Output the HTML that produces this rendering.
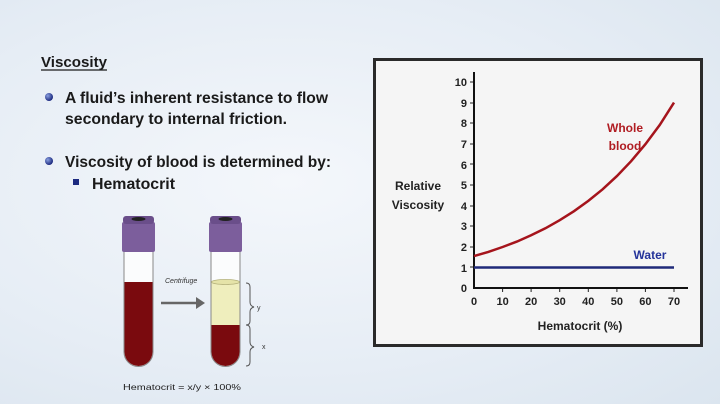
<!DOCTYPE html>
<html><head><meta charset="utf-8"><style>
html,body{margin:0;padding:0;}
body{width:720px;height:404px;overflow:hidden;background:radial-gradient(ellipse at 40% 45%,#f4f7fb 0%,#e6edf5 60%,#dbe5ef 100%);}
svg{display:block;font-family:"Liberation Sans",sans-serif;font-weight:bold;}
</style></head><body>
<svg width="720" height="404" viewBox="0 0 720 404">
<defs>
<radialGradient id="b" cx="35%" cy="35%" r="65%"><stop offset="0" stop-color="#8aa0e0"/><stop offset="1" stop-color="#1c2a80"/></radialGradient>
</defs>
<!-- left text -->
<text x="41" y="67" font-size="15" fill="#1a1a1a" textLength="66" lengthAdjust="spacingAndGlyphs">Viscosity</text>
<line x1="41" y1="70" x2="107" y2="70" stroke="#1a1a1a" stroke-width="1.2"/>
<circle cx="49" cy="97" r="4" fill="url(#b)"/>
<text x="65" y="103" font-size="16" fill="#1a1a1a" textLength="263" lengthAdjust="spacingAndGlyphs">A fluid’s inherent resistance to flow</text>
<text x="65" y="124" font-size="16" fill="#1a1a1a" textLength="222" lengthAdjust="spacingAndGlyphs">secondary to internal friction.</text>
<circle cx="49" cy="161" r="4" fill="url(#b)"/>
<text x="65" y="167" font-size="16" fill="#1a1a1a" textLength="266" lengthAdjust="spacingAndGlyphs">Viscosity of blood is determined by:</text>
<rect x="73" y="179" width="6" height="6" fill="#1c2a80"/>
<text x="92" y="189" font-size="16" fill="#1a1a1a" textLength="83" lengthAdjust="spacingAndGlyphs">Hematocrit</text>
<!-- tubes -->
<g>
<path d="M124 252 V352 a14.5 14.5 0 0 0 29 0 V252" fill="#fbfcfd" stroke="#888" stroke-width="1"/>
<path d="M124.5 282 V352 a14 14 0 0 0 28 0 V282 Z" fill="#7a0a0e"/>
<rect x="122" y="222" width="33" height="30" rx="2" fill="#7c5e9c"/>
<rect x="123" y="216" width="31" height="8" rx="3" fill="#6a4e8a"/>
<ellipse cx="138.5" cy="219" rx="7" ry="2" fill="#222"/>
<path d="M211 252 V352 a14.5 14.5 0 0 0 29 0 V252" fill="#fbfcfd" stroke="#888" stroke-width="1"/>
<rect x="211.5" y="282" width="28" height="43" fill="#efeebd"/>
<ellipse cx="225.5" cy="282" rx="14" ry="2.5" fill="#e5e3a8" stroke="#b3b07a" stroke-width="0.8"/>
<path d="M211.5 325 V352 a14 14 0 0 0 28 0 V325 Z" fill="#7a0a0e"/>
<rect x="209" y="222" width="33" height="30" rx="2" fill="#7c5e9c"/>
<rect x="210" y="216" width="31" height="8" rx="3" fill="#6a4e8a"/>
<ellipse cx="225.5" cy="219" rx="7" ry="2" fill="#222"/>
<line x1="161" y1="303" x2="198" y2="303" stroke="#666" stroke-width="2.5"/>
<path d="M196 297 L205 303 L196 309 Z" fill="#666"/>
<text x="165" y="283" font-size="7" font-style="italic" font-weight="normal" fill="#333">Centrifuge</text>
<path d="M246 283 q4 0 4 4 v15 q0 4 4 5 q-4 1 -4 5 v9 q0 4 -4 4" fill="none" stroke="#555" stroke-width="1"/>
<text x="257" y="310" font-size="7" font-weight="normal" fill="#333">y</text>
<path d="M246 325 q4 0 4 4 v13 q0 4 4 5 q-4 1 -4 5 v10 q0 4 -4 4" fill="none" stroke="#555" stroke-width="1"/>
<text x="262" y="349" font-size="7" font-weight="normal" fill="#333">x</text>
<text x="123" y="390" font-size="8.5" font-weight="normal" fill="#222" textLength="118" lengthAdjust="spacingAndGlyphs">Hematocrit  =  x/y  × 100%</text>
</g>
<!-- chart -->
<rect x="374.5" y="59.5" width="327" height="286" fill="#f5f5f5" stroke="#2a2a2a" stroke-width="3"/>
<g font-size="11" fill="#222" text-anchor="end">
<text x="467" y="292">0</text><text x="467" y="272">1</text><text x="467" y="251">2</text><text x="467" y="230">3</text><text x="467" y="210">4</text><text x="467" y="189">5</text><text x="467" y="169">6</text><text x="467" y="148">7</text><text x="467" y="127">8</text><text x="467" y="107">9</text><text x="467" y="86">10</text>
</g>
<g stroke="#222" stroke-width="1">
<line x1="470" y1="82" x2="474" y2="82"/><line x1="470" y1="103" x2="474" y2="103"/><line x1="470" y1="123" x2="474" y2="123"/><line x1="470" y1="144" x2="474" y2="144"/><line x1="470" y1="164" x2="474" y2="164"/><line x1="470" y1="185" x2="474" y2="185"/><line x1="470" y1="206" x2="474" y2="206"/><line x1="470" y1="226" x2="474" y2="226"/><line x1="470" y1="247" x2="474" y2="247"/><line x1="470" y1="267" x2="474" y2="267"/>
<line x1="502.6" y1="288" x2="502.6" y2="292"/><line x1="531.1" y1="288" x2="531.1" y2="292"/><line x1="559.7" y1="288" x2="559.7" y2="292"/><line x1="588.3" y1="288" x2="588.3" y2="292"/><line x1="616.9" y1="288" x2="616.9" y2="292"/><line x1="645.4" y1="288" x2="645.4" y2="292"/><line x1="674" y1="288" x2="674" y2="292"/>
</g>
<line x1="474" y1="72" x2="474" y2="289" stroke="#111" stroke-width="2"/>
<line x1="473" y1="288" x2="688" y2="288" stroke="#111" stroke-width="2"/>
<g font-size="11" fill="#222" text-anchor="middle">
<text x="474" y="305">0</text><text x="502.6" y="305">10</text><text x="531.1" y="305">20</text><text x="559.7" y="305">30</text><text x="588.3" y="305">40</text><text x="616.9" y="305">50</text><text x="645.4" y="305">60</text><text x="674" y="305">70</text>
<text x="580" y="330" font-size="12">Hematocrit (%)</text>
<text x="418" y="190" font-size="12">Relative</text>
<text x="418" y="209" font-size="12">Viscosity</text>
</g>
<line x1="474" y1="267.5" x2="674" y2="267.5" stroke="#1f2a7a" stroke-width="2.5"/>
<polyline fill="none" stroke="#a5141c" stroke-width="2.5" points="474,256.1 488.3,251.9 502.6,247.0 516.9,241.6 531.1,235.3 545.4,228.3 559.7,220.2 574,211.2 588.3,200.9 602.6,189.3 616.9,176.1 631.1,161.2 645.4,144.2 659.7,125.0 674,102.6"/>
<text x="625" y="132" font-size="12" fill="#b01c22" text-anchor="middle">Whole</text>
<text x="625" y="150" font-size="12" fill="#b01c22" text-anchor="middle">blood</text>
<text x="650" y="259" font-size="12" fill="#24339a" text-anchor="middle">Water</text>
</svg>
</body></html>
